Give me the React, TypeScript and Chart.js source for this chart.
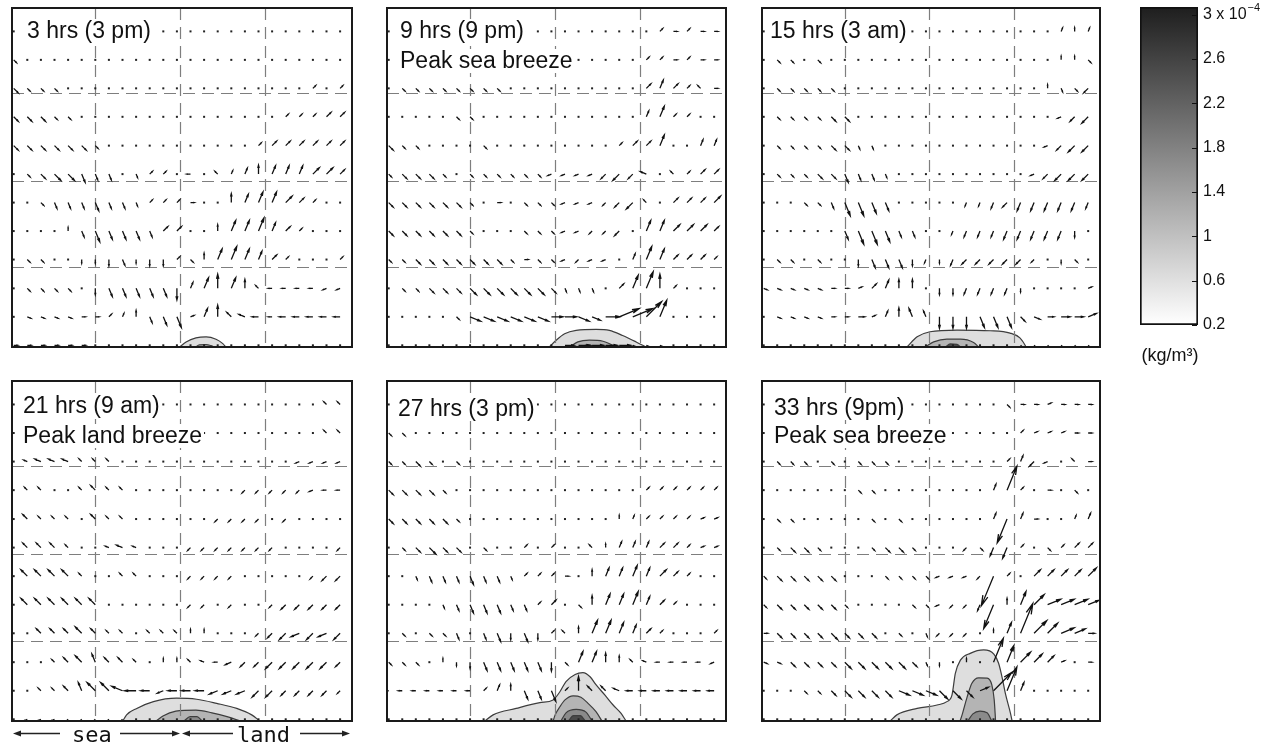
import React, { useEffect, useRef } from "react";
import { Chart, registerables } from "chart.js";

Chart.register(...registerables);

// ---------------- data ----------------
// grid columns (x, % of panel width) and rows (y, % of panel height, listed top -> bottom)
const COL_X = [0.5, 4.5, 8.5, 12.5, 16.5, 20.5, 24.5, 28.5, 32.5, 36.5, 40.5, 44.5, 48.5, 52.5, 56.5, 60.5, 64.5, 68.5, 72.5, 76.5, 80.5, 84.5, 88.5, 92.5, 96.5];
const ROW_Y = [93.1, 84.7, 76.3, 67.9, 59.4, 51.0, 42.6, 34.2, 25.8, 17.3, 8.9, 0.5];
const GRID_X = [24.5, 49.5, 74.5];
const GRID_Y = [23.6, 49.0, 74.9];

// wind vector codes: letter = direction (a=E, e=N, i=W, m=S, 16 steps CCW), digit = speed class
const DIRS = "abcdefghijklmnop";
const SPEEDS = [0.35, 1.0, 1.7, 2.4, 3.1, 3.8, 4.8, 5.8, 6.9, 8.6];

const P1_ROWS = [
  "a0 a0 a0 a0 a0 a0 a0 a0 a0 a0 a0 a0 a0 a0 a0 a0 a0 a0 a0 a0 a0 a0 a0 a0 a0",
  "o1 a0 a0 a0 a0 a0 a0 a0 a0 a0 a0 a0 a0 a0 a0 a0 a0 a0 a0 a0 a0 a0 a0 a0 a0",
  "o2 o1 o1 o1 a0 a0 a0 a0 a0 a0 a0 a0 a0 a0 a0 a0 a0 a0 a0 a0 a0 a0 c1 a0 c1",
  "o2 o2 o2 o1 o1 a0 a0 a0 a0 a0 a0 a0 a0 a0 a0 a0 a0 a0 a0 a0 c1 c1 c1 c2 c2",
  "o2 o2 o2 o2 o2 o2 o1 a0 a0 a0 a0 a0 a0 a0 a0 a0 a0 a0 c1 c2 c2 c2 c2 c2 c2",
  "a0 o1 o2 o3 o3 n3 n2 n2 a0 n1 c1 c1 a0 i1 a0 g1 d1 d2 e3 d3 d3 d3 c3 c3 c2",
  "a0 a0 o1 n2 n2 n2 n3 n2 n2 n1 c1 c1 c1 a1 a0 a0 e3 d3 d4 d4 c3 c2 c1 a0 a0",
  "a0 a0 a0 a0 e1 n2 n4 n3 n3 n3 n2 c2 c2 a0 a0 e2 d4 d4 d5 d3 c2 c1 a0 a0 a0",
  "a0 o1 o1 a0 a0 m1 m1 m2 n2 m1 m2 m2 c1 o1 e2 d4 d5 d4 d3 c2 c1 a0 a0 a0 c1",
  "a0 o1 o1 o1 o1 a0 m2 n3 n3 n3 n3 n3 m4 d2 d4 e5 d4 e3 g1 i1 i1 i1 i1 j1 j1",
  "a0 p1 p1 p1 p1 a1 a1 c1 d1 e2 n2 n3 n4 b1 d3 e4 g2 h2 i2 i1 i2 i2 i2 i2 i2",
  "a1 a1 a1 a1 a1 a1 a0 a0 a0 a0 a0 a0 a0 a0 a0 a0 a0 a0 a0 a0 a0 a0 a0 a0 a0",
];
const P2_ROWS = [
  "a0 a0 a0 a0 a0 a0 a0 a0 a0 a0 a0 a0 a0 a0 a0 a0 a0 a0 a0 a0 c1 a1 c1 a1 a1",
  "a0 a0 a0 a0 a0 a0 a0 a0 a0 a0 a0 a0 a0 a0 a0 a0 a0 a0 a0 c1 c1 a1 c1 a1 a1",
  "a0 o1 o1 o1 o1 o1 o1 o1 o1 a0 a0 a0 a0 a0 a0 a0 a0 a0 a0 c2 d3 c2 c1 g1 a1",
  "a0 a0 a0 a0 a0 o1 o1 a0 a0 a0 a0 a0 a0 a0 a0 a0 a0 a0 a0 d2 d4 c1 c1 a0 a0",
  "o2 o1 o1 a0 a0 a0 a0 o1 a0 a0 a0 a0 a0 a0 a0 a0 a0 c1 c2 c2 d4 a0 a0 d2 d2",
  "o1 o2 o2 o2 o1 a0 o1 o1 o1 o1 o1 o1 j1 j1 j1 j1 k2 k3 k2 h2 a0 g1 c1 c2 c2",
  "o2 o2 o2 o2 o2 o2 o1 a0 a1 a0 o1 o1 o1 j1 j1 j1 k1 k2 k3 g1 a0 c2 c2 c2 c3",
  "o2 o2 o2 o2 o2 o2 o1 a0 a0 a0 o1 o1 o1 j1 j1 k1 k1 k2 a0 d4 d4 c3 c3 c3 c2",
  "o1 o1 o2 o2 o2 o2 o2 o2 o2 o1 a1 o1 o1 j1 k1 j1 j1 a0 d2 d5 d4 c2 c2 c2 c1",
  "a0 o1 o1 o2 o2 o2 o3 o3 o3 o3 o3 o3 o2 n1 n1 n1 a0 c2 d5 d6 e5 c1 a0 a0 a0",
  "a0 a0 a0 a0 a0 o1 p4 p4 p4 p4 p4 p4 a4 a4 p4 p3 a5 b7 b7 c7 d6 a0 a0 a0 a0",
  "a0 a0 a0 a0 a0 a0 a0 a0 a0 a0 a0 a0 a0 a3 a4 a4 a4 a4 p4 p4 p3 a0 a0 a0 a0",
];
const P3_ROWS = [
  "a0 a0 a0 a0 a0 a0 a0 a0 a0 a0 a0 a0 a0 a0 a0 a0 a0 a0 a0 a0 a0 a0 d1 e1 d1",
  "a0 o1 o1 a0 o1 a0 a0 a0 a0 a0 a0 a0 a0 a0 a0 a0 a0 a0 a0 a0 a0 a0 e1 e1 o1",
  "a0 o1 o1 o1 o1 o1 a0 a0 a0 a0 a0 a0 a0 a0 a0 a0 a0 a0 a0 a0 a0 e1 n1 o1 k2",
  "a0 o1 o1 o1 o1 o2 o2 a0 a0 a0 a0 a0 a0 a0 a0 a0 a0 a0 a0 a0 a0 a0 j1 k2 k3",
  "a0 o1 o1 o1 o1 o2 o2 n1 n1 a0 a0 a0 a0 a0 a0 a0 a0 a0 a0 a0 a0 j1 k2 k3 k3",
  "a0 o1 o1 o1 o2 o2 n3 n2 n2 n1 a0 a0 a0 a0 a0 a0 a0 a0 a0 a0 j1 k2 k3 k3 k3",
  "a0 a0 a0 o1 o1 n2 n5 n5 n4 n3 a0 a0 a0 a0 a0 l1 l1 l2 k2 l3 l3 l3 l3 l3 l2",
  "a0 a0 a0 a0 a0 a0 n3 n5 n5 n4 n2 n2 a0 a0 l1 l2 l2 l2 l3 l3 l3 l3 l3 m2 a0",
  "a0 o1 o1 a0 o1 a0 a0 m2 n3 n3 n3 m2 l1 m1 l2 k2 k2 k2 k2 k2 k1 a0 m1 o1 a0",
  "p1 p1 p1 p1 p1 a1 a1 b1 c2 d3 e3 e3 a0 m2 m2 l2 l2 l2 l2 m1 a0 a0 a0 a0 b1",
  "a0 p1 p1 p1 p1 a1 a1 a2 b1 d2 e3 f3 f2 m4 m4 m4 n4 n4 n4 o2 p2 a2 a3 a3 b3",
  "a0 a0 a0 a0 a0 a0 a0 a0 a0 a0 a0 a0 a0 a0 a0 a0 a0 a0 a0 o1 o1 o1 o1 o1 o1",
];
const P4_ROWS = [
  "a0 a0 a0 a0 a0 a0 a0 a0 a0 a0 a0 a0 a0 a0 a0 a0 a0 a0 a0 a0 a0 a0 a0 g1 g1",
  "a0 a0 a0 a0 a0 a0 a0 a0 a0 a0 a0 a0 a0 a0 a0 a0 a0 a0 a0 a0 a0 a0 a0 g1 g1",
  "a0 h1 h2 h2 h2 g1 g1 g1 a0 a0 a0 a0 a0 a0 a0 a0 a0 a0 a0 a0 a0 j1 j1 j1 j1",
  "a0 g1 g1 a0 a0 g1 g2 g1 g1 a0 a0 a0 a0 a0 a0 a0 a0 k1 k1 k1 k1 k1 j1 i1 i1",
  "a0 g2 g1 g1 g1 a0 g2 g1 g1 a0 a0 a0 a0 a0 a0 k1 k1 k1 k1 a0 k1 a0 a0 a0 a0",
  "a0 g2 g2 g2 g1 a0 a0 h1 h2 h1 a0 a0 a0 k1 k1 k1 k1 k1 k1 k1 a0 a0 a0 a0 k1",
  "a0 g3 g3 g3 g3 g1 a0 a0 g1 g1 a0 a0 a0 k1 k1 k1 k1 a0 a0 a0 a0 a0 k1 k2 k2",
  "a0 g3 g3 g3 g3 g3 g3 a0 a0 a0 a0 a0 a0 k1 k1 a0 k1 a0 a0 k1 k2 k2 k2 k2 k2",
  "a0 a0 g2 g2 g2 g3 g2 g1 g1 a0 g1 g1 g1 e1 e1 a0 a0 a0 k1 k2 k3 j3 k3 j3 k3",
  "a0 a0 a0 g1 g2 g3 f3 g2 g2 g1 a0 e1 e1 g1 h1 i1 j2 k2 k2 k3 k3 k3 k3 k3 k2",
  "a0 a0 g1 g1 g2 f3 g4 g4 h4 i4 i3 j2 i3 i3 i3 j3 j3 j3 k3 k3 k2 k2 k2 k2 k1",
  "a0 j1 j1 j1 k1 k1 k1 k1 k1 a0 a0 a0 a0 a0 a0 a0 a0 a0 a0 a0 a0 a0 a0 a0 a0",
];
const P5_ROWS = [
  "a0 a0 a0 a0 a0 a0 a0 a0 a0 a0 a0 a0 a0 a0 a0 a0 a0 a0 a0 a0 a0 a0 a0 a0 a0",
  "o1 o1 a0 a0 a0 a0 a0 a0 a0 a0 a0 a0 a0 a0 a0 a0 a0 a0 a0 a0 a0 a0 a0 a0 a0",
  "o1 o1 o2 o1 a0 o1 a0 a0 a0 a0 a0 a0 a0 a0 a0 a0 a0 a0 a0 a0 a0 a0 a0 a0 a0",
  "o2 o2 o2 o2 o1 a0 a0 a0 a0 a0 a0 a0 a0 a0 a0 a0 a0 a0 a0 c1 c1 c1 c1 c1 c1",
  "o2 o2 o2 o2 o2 o1 a0 a0 a0 a0 a0 a0 a0 a0 a0 a0 a0 e1 d1 c1 c1 c1 c1 b1 b1",
  "a0 o1 o2 o3 o2 o2 a0 o1 a0 a0 c1 a0 c1 a0 a0 g1 e1 d2 d2 d2 c2 c2 c1 b1 b1",
  "a0 a0 n1 n2 n2 n2 n3 n2 n2 n1 c1 c1 c1 a1 a0 e2 d3 d3 d4 d3 c3 c2 c1 a0 a0",
  "a0 a0 a0 a0 n1 n2 n3 n3 n3 n2 n2 c1 c2 a0 o1 e3 d4 d4 d5 d3 c2 c1 a0 a0 a0",
  "a0 o1 a0 o1 o1 n2 a0 n2 n3 m2 n3 m2 c1 g1 e2 d5 d5 d4 d3 c2 c1 a0 a0 a0 c1",
  "o1 o1 o1 a0 e1 m1 m2 n3 n3 n3 n3 n3 m3 o1 d4 d4 e3 e2 g1 h1 i1 i1 i1 i1 j1",
  "i1 i1 i1 i1 i1 i1 i1 c1 d2 e2 n3 n3 n4 c1 e5 g2 g2 h2 i2 i2 i2 i2 i2 i2 i2",
  "a0 a0 a0 a0 a0 a0 a0 a0 a0 a0 a0 a0 a0 a0 a0 a0 a0 a0 a0 a0 a0 a0 a0 a0 a0",
];
const P6_ROWS = [
  "a0 a0 a0 a0 a0 a0 a0 a0 a0 a0 a0 a0 a0 a0 a0 a0 a0 a0 o1 a1 a1 b1 a1 a1 a1",
  "a0 a0 a0 a0 a0 a0 a0 a0 a0 a0 a0 a0 a0 a0 a0 a0 a0 a0 a0 c1 b1 b1 b1 a1 a1",
  "a0 o1 o1 o1 a0 o1 a0 o1 o1 o1 a0 a0 a0 a0 a0 a0 a0 a0 c1 d2 k2 j1 a0 g1 a1",
  "a0 a0 a0 a0 a0 a0 a0 o1 o1 a0 a0 a0 a0 a0 a0 a0 a0 d2 d8 c1 a0 a1 a0 o1 a0",
  "a0 o1 o1 a0 a0 a0 a0 a0 o1 a0 o1 a0 a0 a0 a0 a0 a0 d2 l8 d2 a1 a0 a0 d1 d2",
  "a0 o1 o2 o2 o1 a0 a0 a0 o1 o2 o2 o1 a0 a0 a0 k1 o1 l3 l4 c1 a0 o1 c1 c2 c2",
  "o1 o2 o2 o2 o2 o2 a0 a0 a0 o1 o1 o1 o1 j1 j1 j1 k1 l9 c1 a0 c3 c3 c3 c3 c4",
  "o1 o2 o2 o2 o2 o2 o1 a0 a0 a0 a0 o1 o1 j1 k1 k1 l2 l8 e2 d5 c5 b5 b5 b5 b4",
  "a1 o2 o2 o2 o2 o3 o2 o2 o2 a0 o1 a0 n1 k1 k1 k1 a0 e1 d4 d9 c6 c5 b5 b4 a2",
  "p1 p1 o2 o2 o2 o2 o3 o3 o3 o3 o3 o2 n1 m1 a0 e1 a0 d8 d6 c5 c4 c3 b1 a0 a1",
  "a0 a0 a0 o1 o1 o2 o3 o3 o3 o3 p4 p4 p4 o4 o4 o3 b3 c8 d8 d3 a0 a0 a0 a0 a0",
  "a0 a0 a0 a0 a0 a0 a0 a0 a0 a0 a0 a0 a0 a0 a0 a0 a0 a0 a0 a0 a0 a0 a0 a0 a0",
];

// density contours: outlines [x %, height %], outer level first
const P1_CONTOURS = [
  [[49.3, 0], [51.2, 1.5], [54.1, 2.7], [57.1, 3.0], [60, 2.3], [62, 1.0], [62.9, 0]],
  [[54, 0], [55.1, 0.6], [57.1, 0.7], [58.5, 0.4], [59.5, 0]],
];
const P2_CONTOURS = [
  [[47.9, 0], [49.9, 2.0], [52.4, 3.9], [55.8, 4.9], [61.7, 5.2], [65.6, 4.9], [69.5, 3.4], [73.5, 1.5], [76.4, 0]],
  [[53.8, 0], [56.3, 1.5], [59.7, 2.0], [63.7, 1.7], [67.6, 0]],
  [[57.3, 0], [59.2, 0.6], [61.7, 0]],
];
const P3_CONTOURS = [
  [[42.9, 0], [45.9, 3.0], [49.7, 4.5], [57.7, 5.0], [67.5, 4.8], [73.4, 4.1], [76.3, 2.7], [77.8, 0.6], [78.1, 0]],
  [[48.2, 0], [50.8, 1.5], [54.7, 2.3], [58.7, 2.3], [62.6, 1.3], [64.1, 0]],
  [[54.3, 0], [55.7, 0.9], [57.7, 0.8], [58.7, 0]],
];
const P4_CONTOURS = [
  [[32.6, 0], [33.7, 1.8], [36.7, 3.7], [41.6, 5.7], [48.4, 6.7], [54.3, 6.4], [60.2, 5.2], [66.1, 3.7], [70.5, 1.8], [72.9, 0]],
  [[42.4, 0], [44.4, 1.5], [48.2, 2.9], [54.1, 3.2], [58.8, 2.4], [63.5, 1.2], [67.1, 0]],
  [[50.6, 0], [52.4, 1.3], [54.4, 1.3], [55.9, 0]],
];
const P5_CONTOURS = [
  [[28.9, 0], [31.3, 1.8], [38.1, 3.7], [45.1, 5.4], [49.0, 6.2], [51.0, 8.6], [52.8, 11.6], [55.5, 13.7], [57.8, 14.2], [59.9, 13.0], [61.7, 10.6], [64.3, 7.6], [66.7, 4.7], [69.0, 2.3], [70.5, 0]],
  [[49.0, 0], [49.6, 1.8], [51.0, 4.2], [52.5, 6.2], [54.9, 7.4], [57.2, 7.0], [59.3, 5.2], [61.7, 2.7], [63.4, 0]],
  [[51.3, 0], [52.8, 2.4], [55.8, 3.4], [58.7, 2.6], [60.5, 0]],
  [[53.5, 0], [55, 1.6], [57, 1.6], [58.5, 0]],
];
const P6_CONTOURS = [
  [[37.9, 0], [39.9, 1.8], [45.9, 3.7], [51.8, 4.7], [54.7, 5.7], [56.2, 7.6], [57.2, 14.0], [58.7, 17.9], [61.6, 19.9], [65.6, 20.9], [68.6, 19.7], [70.0, 17.0], [71.0, 13.0], [72.0, 8.1], [73.5, 2.3], [74.0, 0]],
  [[58.6, 0], [59.2, 1.8], [60.7, 7.1], [62.1, 11.1], [64.1, 12.7], [66.6, 12.6], [68.0, 10.6], [68.7, 6.2], [69.0, 1.8], [69.1, 0]],
  [[60.9, 0], [62.4, 2.1], [64.5, 2.9], [66.6, 2.4], [68.0, 0]],
];

const P1_TITLES = ["3 hrs (3 pm)"];
const P2_TITLES = ["9 hrs (9 pm)", "Peak sea breeze"];
const P3_TITLES = ["15 hrs (3 am)"];
const P4_TITLES = ["21 hrs (9 am)", "Peak land breeze"];
const P5_TITLES = ["27 hrs (3 pm)"];
const P6_TITLES = ["33 hrs (9pm)", "Peak sea breeze"];

const CBAR_TICKS = [0.2, 0.6, 1, 1.4, 1.8, 2.2, 2.6, 3];
const CBAR_LABELS = ["0.2", "0.6", "1", "1.4", "1.8", "2.2", "2.6", "3 x 10"];
const CBAR_EXPONENT = "\u22124";
const CBAR_RANGE = [0.2, 3.07];
const UNIT_LABEL = "(kg/m\u00B3)";
const SEA_LABEL = "sea";
const LAND_LABEL = "land";

// ---------------- layout & style ----------------
const PAD = 3;
const QS = 1.1; // quiver scale (axis units per speed unit)
const LEVEL = ["#dedede", "#b4b4b4", "#8a8a8a", "#4a4a4a"];
const PANELS = [
  { rows: P1_ROWS, contours: P1_CONTOURS, fills: [LEVEL[0], LEVEL[1]], titles: P1_TITLES, tpos: [[15, 30]], left: 12, top: 8, w: 340, h: 339, footer: 0 },
  { rows: P2_ROWS, contours: P2_CONTOURS, fills: [LEVEL[0], LEVEL[1], LEVEL[2]], titles: P2_TITLES, tpos: [[13, 30], [13, 60]], left: 387, top: 8, w: 339, h: 339, footer: 0 },
  { rows: P3_ROWS, contours: P3_CONTOURS, fills: [LEVEL[0], LEVEL[1], LEVEL[3]], titles: P3_TITLES, tpos: [[8, 30]], left: 762, top: 8, w: 338, h: 339, footer: 0 },
  { rows: P4_ROWS, contours: P4_CONTOURS, fills: [LEVEL[0], LEVEL[1], LEVEL[2]], titles: P4_TITLES, tpos: [[11, 32], [11, 62]], left: 12, top: 381, w: 340, h: 340, footer: 27 },
  { rows: P5_ROWS, contours: P5_CONTOURS, fills: [LEVEL[0], LEVEL[1], LEVEL[2], LEVEL[3]], titles: P5_TITLES, tpos: [[11, 35]], left: 387, top: 381, w: 339, h: 340, footer: 0 },
  { rows: P6_ROWS, contours: P6_CONTOURS, fills: [LEVEL[0], LEVEL[1], LEVEL[2]], titles: P6_TITLES, tpos: [[12, 34], [12, 62]], left: 762, top: 381, w: 338, h: 340, footer: 0 },
];
const CB = { left: 1130, top: 0, w: 132, h: 375 };

function decode(rows: string[]) {
  const out: any[] = [];
  rows.forEach((row, r) => {
    row.trim().split(/\s+/).forEach((code, k) => {
      const ang = (DIRS.indexOf(code[0]) * Math.PI) / 8;
      const s = SPEEDS[Number(code[1])];
      out.push({ x: COL_X[k], y: ROW_Y[r], u: s * Math.cos(ang), v: s * Math.sin(ang) });
    });
  });
  return out;
}

function drawHeadArrow(ctx: CanvasRenderingContext2D, x0: number, y0: number, x1: number, y1: number) {
  const dir = Math.sign(x1 - x0);
  ctx.beginPath();
  ctx.moveTo(x0, y0);
  ctx.lineTo(x1 - dir * 5, y1);
  ctx.stroke();
  ctx.beginPath();
  ctx.moveTo(x1, y1);
  ctx.lineTo(x1 - dir * 8, y1 - 3);
  ctx.lineTo(x1 - dir * 8, y1 + 3);
  ctx.closePath();
  ctx.fill();
}

function panelPlugin(p: any) {
  return {
    id: "panelDeco",
    afterDatasetsDraw(chart: any) {
      const { ctx, chartArea: a } = chart;
      const xs = chart.scales.x;
      const ys = chart.scales.y;
      ctx.save();
      ctx.beginPath();
      ctx.rect(a.left, a.top, a.right - a.left, a.bottom - a.top);
      ctx.clip();
      // dashed grid
      ctx.strokeStyle = "#7e7e7e";
      ctx.lineWidth = 1.2;
      ctx.setLineDash([12, 7]);
      GRID_X.forEach((g) => {
        const px = Math.round(xs.getPixelForValue(g)) + 0.5;
        ctx.beginPath();
        ctx.moveTo(px, a.top);
        ctx.lineTo(px, a.bottom);
        ctx.stroke();
      });
      GRID_Y.forEach((g) => {
        const py = Math.round(ys.getPixelForValue(g)) + 0.5;
        ctx.beginPath();
        ctx.moveTo(a.left, py);
        ctx.lineTo(a.right, py);
        ctx.stroke();
      });
      ctx.setLineDash([]);
      // quiver
      const di = chart.data.datasets.findIndex((d: any) => d.quiver);
      const meta = chart.getDatasetMeta(di);
      const data = chart.data.datasets[di].data;
      ctx.strokeStyle = "#111111";
      ctx.fillStyle = "#222222";
      ctx.lineWidth = 1.3;
      meta.data.forEach((el: any, i: number) => {
        const d = data[i];
        const x0 = el.x;
        const y0 = el.y;
        const x1 = xs.getPixelForValue(d.x + d.u * QS);
        const y1 = ys.getPixelForValue(d.y + d.v * QS);
        const dx = x1 - x0;
        const dy = y1 - y0;
        const L = Math.hypot(dx, dy);
        if (L < 1.8) {
          ctx.fillRect(x0 - 1, y0 - 1, 2, 2);
          return;
        }
        const al = 0.33;
        const be = 0.25;
        ctx.beginPath();
        ctx.moveTo(x0, y0);
        ctx.lineTo(x1, y1);
        ctx.moveTo(x1 - al * (dx + be * dy), y1 - al * (dy - be * dx));
        ctx.lineTo(x1, y1);
        ctx.lineTo(x1 - al * (dx - be * dy), y1 - al * (dy + be * dx));
        ctx.stroke();
      });
      ctx.restore();
    },
    afterDraw(chart: any) {
      const { ctx, chartArea: a } = chart;
      ctx.save();
      ctx.font = '23px "Liberation Sans", Arial, sans-serif';
      ctx.textBaseline = "alphabetic";
      p.titles.forEach((t: string, i: number) => {
        const [dx, dy] = p.tpos[i];
        const w = ctx.measureText(t).width;
        ctx.fillStyle = "#ffffff";
        ctx.fillRect(a.left + dx - 2, a.top + dy - 19, w + 4, 24);
        ctx.fillStyle = "#111111";
        ctx.fillText(t, a.left + dx, a.top + dy);
      });
      ctx.strokeStyle = "#1a1a1a";
      ctx.lineWidth = 2;
      ctx.strokeRect(a.left, a.top, a.right - a.left, a.bottom - a.top);
      if (p.footer) {
        const y = a.bottom + 12.5;
        ctx.strokeStyle = "#222";
        ctx.fillStyle = "#222";
        ctx.lineWidth = 1.4;
        drawHeadArrow(ctx, a.left + 48, y, a.left + 1, y);
        drawHeadArrow(ctx, a.left + 108, y, a.left + 168, y);
        drawHeadArrow(ctx, a.left + 221, y, a.left + 170, y);
        drawHeadArrow(ctx, a.left + 288, y, a.left + 338, y);
        ctx.font = '22px "DejaVu Sans Mono", monospace';
        ctx.fillStyle = "#111";
        ctx.fillText(SEA_LABEL, a.left + 60, a.bottom + 21);
        ctx.fillText(LAND_LABEL, a.left + 225, a.bottom + 21);
      }
      ctx.restore();
    },
  };
}

function makePanel(canvas: HTMLCanvasElement, p: any) {
  const datasets: any[] = p.contours.map((pts: number[][], j: number) => ({
    type: "line",
    data: pts.map(([x, y]) => ({ x, y })),
    fill: "start",
    backgroundColor: p.fills[j],
    borderColor: "#3d3d3d",
    borderWidth: 1.2,
    pointRadius: 0,
    cubicInterpolationMode: "monotone",
    order: 20 - j,
  }));
  datasets.push({ type: "scatter", data: decode(p.rows), pointRadius: 0, showLine: false, order: 0, quiver: true });
  return new Chart(canvas, {
    type: "scatter",
    data: { datasets },
    options: {
      animation: false,
      responsive: false,
      events: [],
      layout: { padding: { left: PAD, right: PAD, top: PAD, bottom: PAD + p.footer } },
      plugins: { legend: { display: false }, tooltip: { enabled: false } },
      scales: {
        x: { type: "linear", min: 0, max: 100, display: false },
        y: { type: "linear", min: 0, max: 100, display: false },
      },
    } as any,
    plugins: [panelPlugin(p)],
  } as any);
}

function makeColorbar(canvas: HTMLCanvasElement) {
  const cbPlugin = {
    id: "cbDeco",
    afterDatasetsDraw(chart: any) {
      const { ctx, chartArea: a } = chart;
      const ys = chart.scales.y;
      ctx.save();
      ctx.strokeStyle = "#111";
      ctx.lineWidth = 1;
      CBAR_TICKS.forEach((v) => {
        const py = Math.round(ys.getPixelForValue(v)) + 0.5;
        ctx.beginPath();
        ctx.moveTo(a.right - 1, py);
        ctx.lineTo(a.right - 6, py);
        ctx.stroke();
      });
      ctx.restore();
    },
    afterDraw(chart: any) {
      const { ctx, chartArea: a } = chart;
      const ys = chart.scales.y;
      ctx.save();
      ctx.fillStyle = "#111";
      ctx.font = '16px "Liberation Sans", Arial, sans-serif';
      const base = ctx.measureText(CBAR_LABELS[CBAR_LABELS.length - 1]).width;
      const ty = ys.getPixelForValue(CBAR_TICKS[CBAR_TICKS.length - 1]);
      ctx.font = '11px "Liberation Sans", Arial, sans-serif';
      ctx.textBaseline = "middle";
      ctx.fillText(CBAR_EXPONENT, a.right + 5 + base + 1, ty - 7);
      ctx.font = '18px "Liberation Sans", Arial, sans-serif';
      ctx.textAlign = "center";
      ctx.fillText(UNIT_LABEL, a.left + 30, a.bottom + 31);
      ctx.restore();
    },
  };
  return new Chart(canvas, {
    type: "bar",
    data: {
      labels: [""],
      datasets: [
        {
          data: [[CBAR_RANGE[0], CBAR_RANGE[1]]],
          backgroundColor: (c: any) => {
            const ch = c.chart;
            const a = ch.chartArea;
            if (!a) return "#999";
            const g = ch.ctx.createLinearGradient(0, a.bottom, 0, a.top);
            g.addColorStop(0, "#ffffff");
            g.addColorStop(1, "#1e1e1e");
            return g;
          },
          borderColor: "#111",
          borderWidth: 2,
          borderSkipped: false,
          barPercentage: 1,
          categoryPercentage: 1,
        },
      ],
    },
    options: {
      animation: false,
      responsive: false,
      events: [],
      layout: { padding: { left: 10, right: 4, top: 7, bottom: 50 } },
      plugins: { legend: { display: false }, tooltip: { enabled: false } },
      scales: {
        x: { display: false },
        y: {
          position: "right",
          min: CBAR_RANGE[0],
          max: CBAR_RANGE[1],
          afterBuildTicks: (s: any) => {
            s.ticks = CBAR_TICKS.map((v) => ({ value: v }));
          },
          afterFit: (s: any) => {
            s.width = 60;
            s.paddingTop = 0;
            s.paddingBottom = 0;
          },
          ticks: {
            padding: 5,
            color: "#111",
            font: { family: '"Liberation Sans", Arial, sans-serif', size: 16, lineHeight: 1 },
            callback: (v: any) => {
              const i = CBAR_TICKS.findIndex((t) => Math.abs(t - v) < 1e-6);
              return i >= 0 ? CBAR_LABELS[i] : "";
            },
          },
          grid: { display: false, drawTicks: false },
          border: { display: false },
        },
      },
    } as any,
    plugins: [cbPlugin],
  } as any);
}

export default function App() {
  const refs = useRef<(HTMLCanvasElement | null)[]>([]);
  const cbRef = useRef<HTMLCanvasElement | null>(null);

  useEffect(() => {
    const charts: any[] = PANELS.map((p, i) => makePanel(refs.current[i] as HTMLCanvasElement, p));
    charts.push(makeColorbar(cbRef.current as HTMLCanvasElement));
    return () => charts.forEach((c) => c.destroy());
  }, []);

  return (
    <div style={{ position: "absolute", left: 0, top: 0, width: 1262, height: 748, background: "#ffffff", overflow: "hidden" }}>
      {PANELS.map((p, i) => {
        const w = p.w + 2 * PAD;
        const h = p.h + 2 * PAD + p.footer;
        return (
          <canvas
            key={i}
            ref={(el) => {
              refs.current[i] = el;
            }}
            width={w}
            height={h}
            style={{ position: "absolute", left: p.left - PAD, top: p.top - PAD, width: w, height: h }}
          />
        );
      })}
      <canvas
        ref={cbRef}
        width={CB.w}
        height={CB.h}
        style={{ position: "absolute", left: CB.left, top: CB.top, width: CB.w, height: CB.h }}
      />
    </div>
  );
}
